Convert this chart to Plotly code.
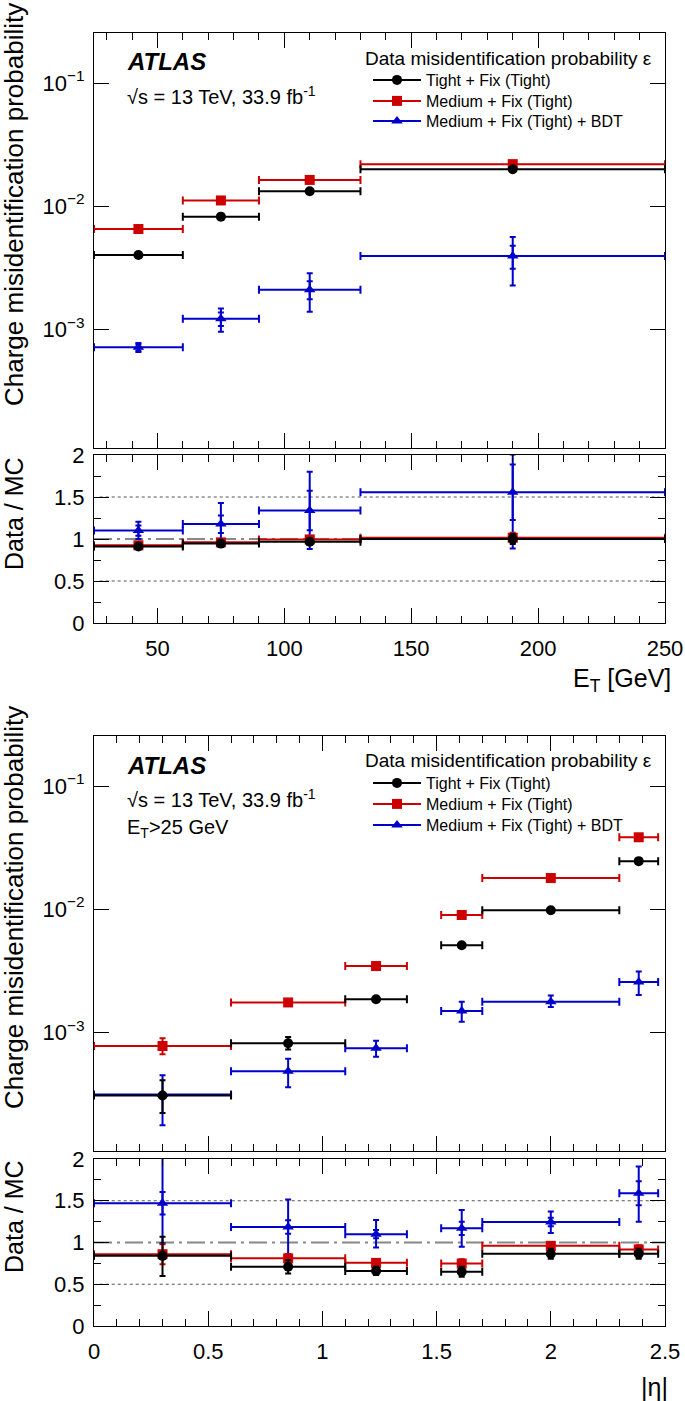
import plotly.graph_objects as go

# ---------------- data ----------------
# Top: vs E_T
ET_LO = [25, 60, 90, 130]
ET_HI = [60, 90, 130, 250]
ET_C = [42.5, 75, 110, 190]

TIGHT_ET = [0.0040, 0.0082, 0.0132, 0.0199]
TIGHT_ET_UP = [0.00012, 0.0002, 0.0003, 0.0004]
TIGHT_ET_DN = [0.00012, 0.0002, 0.0003, 0.0004]
MED_ET = [0.0065, 0.0111, 0.0163, 0.0219]
MED_ET_UP = [0.00015, 0.0002, 0.0003, 0.0004]
MED_ET_DN = [0.00015, 0.0002, 0.0003, 0.0004]
BDT_ET = [0.00071, 0.00121, 0.00209, 0.00392]
BDT_ET_UP = [0.00006, 0.00026, 0.00075, 0.00168]
BDT_ET_DN = [0.00006, 0.00026, 0.00071, 0.00166]
BDT_ET_SUP = [0.00004, 0.00015, 0.00036, 0.00083]
BDT_ET_SDN = [0.00004, 0.00015, 0.00034, 0.00083]

R_TIGHT_ET = [0.91, 0.945, 0.968, 1.0]
R_TIGHT_ET_ERR = [0.03, 0.03, 0.04, 0.06]
R_MED_ET = [0.925, 0.96, 0.995, 1.015]
R_MED_ET_ERR = [0.03, 0.03, 0.04, 0.06]
R_BDT_ET = [1.10, 1.18, 1.34, 1.556]
R_BDT_ET_UP = [0.106, 0.25, 0.46, 0.45]
R_BDT_ET_DN = [0.10, 0.22, 0.46, 0.67]
R_BDT_ET_SUP = [0.06, 0.10, 0.235, 0.33]
R_BDT_ET_SDN = [0.06, 0.11, 0.235, 0.33]

# Bottom: vs |eta|
ETA_LO = [0.0, 0.6, 1.1, 1.52, 1.7, 2.3]
ETA_HI = [0.6, 1.1, 1.37, 1.7, 2.3, 2.47]
ETA_C = [0.3, 0.85, 1.235, 1.61, 2.0, 2.385]

TIGHT_ETA = [0.000305, 0.00081, 0.00185, 0.00507, 0.00976, 0.0245]
TIGHT_ETA_UP = [0.0001, 0.0001, 0.00006, 0.0002, 0.0003, 0.0012]
TIGHT_ETA_DN = [0.000085, 0.00009, 0.00006, 0.0002, 0.0003, 0.0012]
MED_ETA = [0.00077, 0.00174, 0.00344, 0.00894, 0.01786, 0.0383]
MED_ETA_UP = [0.00012, 0.00006, 0.0001, 0.0003, 0.0005, 0.0015]
MED_ETA_DN = [0.00011, 0.00006, 0.0001, 0.0003, 0.0005, 0.0015]
BDT_ETA = [0.00031, 0.000479, 0.00074, 0.00148, 0.00176, 0.00255]
BDT_ETA_UP = [0.000135, 0.000128, 0.00011, 0.00028, 0.00022, 0.00055]
BDT_ETA_DN = [0.000135, 0.000124, 0.00011, 0.00027, 0.00016, 0.00055]

R_TIGHT_ETA = [0.84, 0.71, 0.66, 0.65, 0.865, 0.865]
R_TIGHT_ETA_UP = [0.23, 0.08, 0.05, 0.06, 0.06, 0.06]
R_TIGHT_ETA_DN = [0.24, 0.08, 0.05, 0.06, 0.06, 0.06]
R_MED_ETA = [0.86, 0.81, 0.756, 0.748, 0.96, 0.917]
R_MED_ETA_ERR = [0.12, 0.05, 0.04, 0.05, 0.04, 0.05]
R_BDT_ETA = [1.47, 1.185, 1.10, 1.17, 1.245, 1.59]
R_BDT_ETA_UP = [0.60, 0.33, 0.17, 0.22, 0.125, 0.32]
R_BDT_ETA_DN = [0.48, 0.33, 0.16, 0.22, 0.13, 0.34]
R_BDT_ETA_SUP = [0.135, 0.08, 0.05, 0.08, 0.05, 0.145]
R_BDT_ETA_SDN = [0.135, 0.08, 0.05, 0.08, 0.05, 0.145]

LEG_TITLE = "Data misidentification probability \u03b5"
LEG_NAMES = ["Tight + Fix (Tight)", "Medium + Fix (Tight)", "Medium + Fix (Tight) + BDT"]
COLORS = ["#000000", "#cc0000", "#0000cc"]
SYMBOLS = ["circle", "square", "triangle-up"]

# ---------------- figure ----------------
W, H = 685, 1401
FONT = "Liberation Sans, Arial, Helvetica, sans-serif"


def pxx(x):
    return x / W


def pyy(y):
    return 1 - y / H


fig = go.Figure()


def add_series(x, lo, hi, y, up, dn, color, symbol, xa, ya, sup=None, sdn=None):
    fig.add_trace(go.Scatter(
        x=x, y=y, mode="markers", xaxis=xa, yaxis=ya, showlegend=False,
        marker=dict(color=color, symbol=symbol, size=10),
        error_x=dict(type="data", symmetric=False,
                     array=[h - c for h, c in zip(hi, x)],
                     arrayminus=[c - l for c, l in zip(x, lo)],
                     color=color, thickness=2, width=4),
        error_y=dict(type="data", symmetric=False, array=up, arrayminus=dn,
                     color=color, thickness=2, width=3),
    ))
    if sup is not None:
        fig.add_trace(go.Scatter(
            x=x, y=y, mode="markers", xaxis=xa, yaxis=ya, showlegend=False,
            marker=dict(color=color, size=1, opacity=0),
            error_y=dict(type="data", symmetric=False, array=sup, arrayminus=sdn,
                         color=color, thickness=2, width=3),
        ))


# top main
add_series(ET_C, ET_LO, ET_HI, BDT_ET, BDT_ET_UP, BDT_ET_DN, COLORS[2], SYMBOLS[2], "x", "y", BDT_ET_SUP, BDT_ET_SDN)
add_series(ET_C, ET_LO, ET_HI, MED_ET, MED_ET_UP, MED_ET_DN, COLORS[1], SYMBOLS[1], "x", "y")
add_series(ET_C, ET_LO, ET_HI, TIGHT_ET, TIGHT_ET_UP, TIGHT_ET_DN, COLORS[0], SYMBOLS[0], "x", "y")
# top ratio
add_series(ET_C, ET_LO, ET_HI, R_BDT_ET, R_BDT_ET_UP, R_BDT_ET_DN, COLORS[2], SYMBOLS[2], "x2", "y2", R_BDT_ET_SUP, R_BDT_ET_SDN)
add_series(ET_C, ET_LO, ET_HI, R_MED_ET, R_MED_ET_ERR, R_MED_ET_ERR, COLORS[1], SYMBOLS[1], "x2", "y2")
add_series(ET_C, ET_LO, ET_HI, R_TIGHT_ET, R_TIGHT_ET_ERR, R_TIGHT_ET_ERR, COLORS[0], SYMBOLS[0], "x2", "y2")
# bottom main
add_series(ETA_C, ETA_LO, ETA_HI, BDT_ETA, BDT_ETA_UP, BDT_ETA_DN, COLORS[2], SYMBOLS[2], "x3", "y3")
add_series(ETA_C, ETA_LO, ETA_HI, MED_ETA, MED_ETA_UP, MED_ETA_DN, COLORS[1], SYMBOLS[1], "x3", "y3")
add_series(ETA_C, ETA_LO, ETA_HI, TIGHT_ETA, TIGHT_ETA_UP, TIGHT_ETA_DN, COLORS[0], SYMBOLS[0], "x3", "y3")
# bottom ratio
add_series(ETA_C, ETA_LO, ETA_HI, R_BDT_ETA, R_BDT_ETA_UP, R_BDT_ETA_DN, COLORS[2], SYMBOLS[2], "x4", "y4", R_BDT_ETA_SUP, R_BDT_ETA_SDN)
add_series(ETA_C, ETA_LO, ETA_HI, R_MED_ETA, R_MED_ETA_ERR, R_MED_ETA_ERR, COLORS[1], SYMBOLS[1], "x4", "y4")
add_series(ETA_C, ETA_LO, ETA_HI, R_TIGHT_ETA, R_TIGHT_ETA_UP, R_TIGHT_ETA_DN, COLORS[0], SYMBOLS[0], "x4", "y4")

# legend entries: one legend per row so that row spacing matches
LEG_ROWS = {"top": (80, 101, 121), "bot": (783, 804, 825)}
legends = {}
k = 0
for panel, xa, ya in (("top", "x", "y"), ("bot", "x3", "y3")):
    for i, (name, c, s) in enumerate(zip(LEG_NAMES, COLORS, SYMBOLS)):
        k += 1
        lname = "legend" if k == 1 else f"legend{k}"
        fig.add_trace(go.Scatter(
            x=[None], y=[None], mode="lines+markers", name=name, legend=lname,
            xaxis=xa, yaxis=ya, line=dict(color=c, width=2),
            marker=dict(color=c, symbol=s, size=10),
        ))
        legends[lname] = dict(x=368 / W, y=pyy(LEG_ROWS[panel][i]), xanchor="left",
                              yanchor="middle", bgcolor="rgba(0,0,0,0)", borderwidth=0,
                              font=dict(family=FONT, size=16, color="black"),
                              itemwidth=48)

X_DOM = [94 / W, 665 / W]
TOP_MAIN = [pyy(448), pyy(33)]
TOP_RAT = [pyy(623), pyy(455)]
BOT_MAIN = [pyy(1151), pyy(736)]
BOT_RAT = [pyy(1326), pyy(1159)]
LOG_RANGE = [-3.967, -0.5935]

MAJ, MIN = 15, 7
common = dict(showline=True, linecolor="black", linewidth=1, mirror="allticks",
              ticks="inside", ticklen=MAJ, tickwidth=1, tickcolor="black",
              showgrid=False, zeroline=False, automargin=False,
              tickfont=dict(family=FONT, size=22, color="black"))

major_vals = [1e-3, 1e-2, 1e-1]
major_text = ["10<sup>\u22123</sup>", "10<sup>\u22122</sup>", "10<sup>\u22121</sup>"]
minor_vals = [m * d for d in (1e-4, 1e-3, 1e-2, 1e-1) for m in range(2, 10)]


def xaxis_cfg(dom, anchor, rng, dtick, mdtick, labels):
    return dict(common, domain=dom, anchor=anchor, range=rng, dtick=dtick, tick0=0,
                showticklabels=labels, ticklabelstandoff=6,
                minor=dict(dtick=mdtick, tick0=0, ticks="inside", ticklen=MIN,
                           tickcolor="black", showgrid=False))


def ratio_y(dom, anchor):
    return dict(common, domain=dom, anchor=anchor, range=[0, 2], dtick=0.5, tick0=0,
                ticklabelstandoff=4,
                minor=dict(dtick=0.25, tick0=0, ticks="inside", ticklen=MIN,
                           tickcolor="black", showgrid=False))


def log_y(dom, anchor):
    return dict(common, domain=dom, anchor=anchor, type="log", range=LOG_RANGE,
                tickmode="array", tickvals=major_vals, ticktext=major_text,
                ticklabelstandoff=4)


def log_minor(over, anchor):
    return dict(overlaying=over, anchor=anchor, type="log", range=LOG_RANGE,
                tickmode="array", tickvals=minor_vals, showticklabels=False,
                ticks="inside", ticklen=MIN, tickcolor="black", mirror="allticks",
                showline=False, showgrid=False, zeroline=False, automargin=False)


fig.update_layout(
    template="none",
    width=W, height=H, margin=dict(l=0, r=0, t=0, b=0, autoexpand=False),
    plot_bgcolor="white", paper_bgcolor="white",
    font=dict(family=FONT, color="black", size=20),
    xaxis=xaxis_cfg(X_DOM, "y", [25, 250], 50, 10, False),
    yaxis=log_y(TOP_MAIN, "x"),
    xaxis2=xaxis_cfg(X_DOM, "y2", [25, 250], 50, 10, True),
    yaxis2=ratio_y(TOP_RAT, "x2"),
    xaxis3=xaxis_cfg(X_DOM, "y3", [0, 2.5], 0.5, 0.1, False),
    yaxis3=log_y(BOT_MAIN, "x3"),
    xaxis4=xaxis_cfg(X_DOM, "y4", [0, 2.5], 0.5, 0.1, True),
    yaxis4=ratio_y(BOT_RAT, "x4"),
    yaxis5=log_minor("y", "x"),
    yaxis6=log_minor("y3", "x3"),
    showlegend=True,
    **legends,
)

# reference lines in ratio panels
for xa, ya in (("x2", "y2"), ("x4", "y4")):
    for v in (0.5, 1.5):
        fig.add_shape(type="line", xref=f"{xa} domain", yref=ya, x0=0.01, x1=0.99, y0=v, y1=v,
                      line=dict(color="#555555", width=1, dash="dot"), layer="below")
    fig.add_shape(type="line", xref=f"{xa} domain", yref=ya, x0=0, x1=1, y0=1, y1=1,
                  line=dict(color="#888888", width=2, dash="18px,5px,3px,5px"), layer="below")

ann = []


def text(x, y, s, size, xanchor="left", angle=0):
    ann.append(dict(x=pxx(x), y=pyy(y), xref="paper", yref="paper", text=s, showarrow=False,
                    xanchor=xanchor, yanchor="middle", textangle=angle,
                    font=dict(family=FONT, size=size, color="black")))


for off in (0, 703):
    text(125, 62 + off, "<b><i>ATLAS</i></b>", 24)
    text(125, 95 + off, "\u221as = 13 TeV, 33.9 fb<sup>-1</sup>", 20)
    text(363, 58 + off, LEG_TITLE, 19)
text(125, 828, "E<sub>T</sub>>25 GeV", 20)

text(14, 205, "Charge misidentification probability", 26, "center", -90)
text(14, 514, "Data / MC", 25, "center", -90)
text(14, 908, "Charge misidentification probability", 26, "center", -90)
text(14, 1217, "Data / MC", 25, "center", -90)
text(673, 680, "E<sub>T</sub> [GeV]", 25, "right")
text(670, 1387, "|\u03b7|", 25, "right")

fig.update_layout(annotations=ann)

fig.write_html("out.html", config={"displayModeBar": False},
               post_script="document.body.style.margin='0';document.body.style.overflow='hidden';")
